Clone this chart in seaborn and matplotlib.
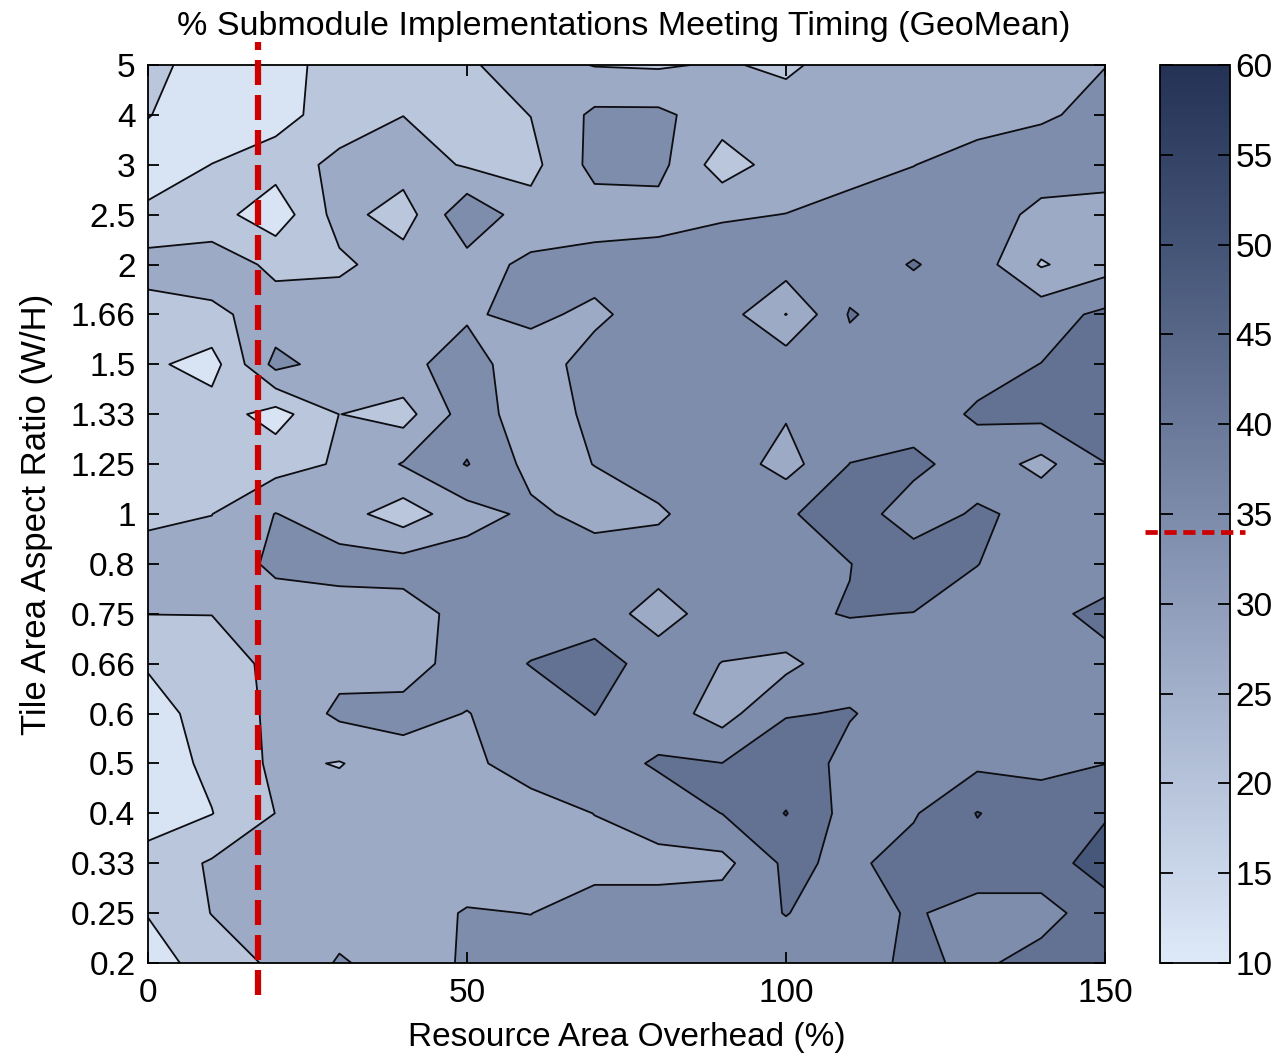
import numpy as np
import matplotlib
matplotlib.use("Agg")
import matplotlib.pyplot as plt
import seaborn as sns
from matplotlib import transforms
from matplotlib.colors import Normalize
from matplotlib.cm import ScalarMappable

# Resource area overhead (%) sampled every 10 %
overhead = [0, 10, 20, 30, 40, 50, 60, 70, 80, 90, 100, 110, 120, 130, 140, 150]

# Tile aspect ratios (W/H), plotted on evenly spaced rows
aspect_labels = ["0.2", "0.25", "0.33", "0.4", "0.5", "0.6", "0.66", "0.75", "0.8",
                 "1", "1.25", "1.33", "1.5", "1.66", "2", "2.5", "3", "4", "5"]

# % of submodule implementations meeting timing (geometric mean), one row per aspect ratio
r_0p2  = [12.5, 18.5, 24.5, 31.2, 27.5, 31.2, 33.5, 35.0, 35.0, 35.0, 35.0, 35.0, 39.5, 36.5, 41.0, 44.0]
r_0p25 = [15.8, 23.2, 26.8, 27.5, 27.5, 31.0, 30.4, 33.5, 33.5, 35.0, 38.2, 35.0, 38.8, 35.0, 35.0, 42.5]
r_0p33 = [18.5, 23.8, 26.0, 26.8, 26.8, 26.8, 27.5, 28.2, 28.2, 28.2, 39.5, 36.5, 41.0, 42.5, 42.5, 48.5]
r_0p4  = [11.8, 15.3, 23.1, 26.8, 26.8, 26.8, 27.5, 30.6, 34.2, 38.1, 45.8, 35.0, 37.3, 45.8, 41.0, 44.8]
r_0p5  = [11.8, 17.0, 24.5, 22.6, 27.5, 29.0, 33.5, 35.0, 38.8, 38.1, 41.0, 36.5, 37.9, 36.5, 36.5, 37.9]
r_0p6  = [12.5, 18.5, 24.5, 32.0, 32.8, 30.3, 33.5, 38.1, 34.2, 27.5, 37.7, 38.3, 35.8, 35.8, 35.8, 35.8]
r_0p66 = [16.2, 20.0, 24.5, 28.2, 27.5, 33.5, 38.3, 41.0, 35.0, 30.3, 28.5, 35.8, 35.8, 35.8, 35.8, 36.5]
r_0p75 = [23.1, 23.1, 26.8, 26.8, 27.5, 32.8, 33.5, 35.0, 26.8, 35.0, 37.3, 38.2, 37.9, 35.8, 36.5, 39.5]
r_0p8  = [26.0, 26.0, 32.0, 33.5, 33.5, 34.2, 33.5, 34.2, 34.2, 35.0, 35.8, 37.9, 41.0, 38.1, 35.0, 35.0]
r_1    = [21.5, 22.9, 30.7, 26.0, 19.2, 27.5, 32.0, 28.2, 29.5, 35.0, 37.3, 41.0, 35.0, 38.8, 36.5, 35.0]
r_1p25 = [20.0, 20.0, 20.0, 23.8, 31.0, 38.4, 28.2, 30.6, 34.2, 35.0, 27.5, 38.1, 39.5, 35.0, 28.2, 37.9]
r_1p33 = [19.2, 19.2, 12.5, 23.1, 20.0, 34.2, 26.8, 32.0, 34.2, 34.2, 31.2, 34.2, 35.0, 38.8, 40.2, 41.0]
r_1p5  = [17.0, 12.5, 32.8, 26.8, 29.0, 33.0, 26.8, 33.5, 34.2, 35.0, 35.0, 35.0, 35.0, 35.8, 38.1, 42.5]
r_1p66 = [20.0, 21.5, 26.0, 27.5, 27.5, 29.8, 32.0, 29.0, 34.2, 34.2, 22.8, 38.6, 34.2, 35.0, 35.0, 39.5]
r_2    = [26.0, 26.8, 21.5, 21.5, 26.8, 27.5, 32.0, 33.5, 34.2, 34.2, 34.2, 34.2, 38.5, 34.2, 22.3, 27.5]
r_2p5  = [17.0, 18.5, 11.0, 26.0, 19.2, 36.5, 26.0, 26.8, 27.5, 29.8, 30.6, 32.8, 33.5, 33.5, 29.0, 27.5]
r_3    = [11.8, 15.6, 18.5, 25.2, 26.8, 22.2, 20.8, 32.8, 32.8, 19.2, 26.8, 28.2, 30.4, 32.8, 33.5, 34.2]
r_4    = [15.8, 11.0, 13.2, 18.5, 22.9, 20.0, 23.1, 32.0, 32.0, 26.8, 26.8, 26.8, 27.5, 28.2, 29.8, 32.0]
r_5    = [18.5, 11.0, 12.5, 18.5, 20.0, 22.2, 26.0, 22.7, 22.2, 23.8, 21.5, 26.8, 27.5, 27.5, 27.5, 30.4]

timing = np.array([r_0p2, r_0p25, r_0p33, r_0p4, r_0p5, r_0p6, r_0p66, r_0p75, r_0p8,
                   r_1, r_1p25, r_1p33, r_1p5, r_1p66, r_2, r_2p5, r_3, r_4, r_5])

contour_levels = [8, 15.5, 23, 30.5, 38, 45.5, 53, 60.5]
colorbar_ticks = [10, 15, 20, 25, 30, 35, 40, 45, 50, 55, 60]
threshold = 34          # marked on the colour bar
overhead_marker = 17.3  # marked across the map

sns.set_style("ticks")
plt.rcParams["font.family"] = ["Liberation Sans", "DejaVu Sans"]
for key in ("text.color", "axes.labelcolor", "xtick.color", "ytick.color", "axes.edgecolor"):
    plt.rcParams[key] = "black"
plt.rcParams["axes.axisbelow"] = False

cmap = sns.blend_palette(["#dee9f8", "#b6c3da", "#8f9dbb", "#6a7999", "#445476", "#233255"],
                         as_cmap=True)
norm = Normalize(vmin=10, vmax=60)

W, H = 1276, 1056
fig = plt.figure(figsize=(W / 100, H / 100), dpi=100)
ax = fig.add_axes([148 / W, 93 / H, 957 / W, 898 / H])
ax.set_axisbelow(False)

rows = np.arange(len(aspect_labels))
ax.contourf(overhead, rows, timing, levels=contour_levels, cmap=cmap, norm=norm, zorder=1)
ax.contour(overhead, rows, timing, levels=contour_levels, colors="#0d0d12",
           linewidths=1.3, zorder=2)

ax.set_xlim(0, 150)
ax.set_ylim(0, len(aspect_labels) - 1)
ax.set_xticks([0, 50, 100, 150])
ax.set_yticks(rows)
ax.set_yticklabels(aspect_labels)
ax.tick_params(direction="in", bottom=True, left=True, top=True, right=True,
               length=8, width=1.3, labelsize=24, colors="black")
ax.tick_params(axis="y", pad=9)
ax.tick_params(axis="x", pad=11)
for s in ax.spines.values():
    s.set_linewidth(1.3)
    s.set_color("black")
    s.set_zorder(5)

ax.set_xlabel("Resource Area Overhead (%)", fontsize=24, labelpad=9)
ax.set_ylabel("Tile Area Aspect Ratio (W/H)", fontsize=25, labelpad=13)
fig.text(624 / W, 1 - 26 / H, "% Submodule Implementations Meeting Timing (GeoMean)",
         ha="center", va="center", fontsize=24.5)

ax.axvline(overhead_marker, ymin=-0.036, ymax=1.026, color="#cc0000", lw=4.5,
           linestyle=(0, (4.0, 1.6)), clip_on=False, zorder=6)

cax = fig.add_axes([1160 / W, 93 / H, 70 / W, 898 / H])
cax.set_axisbelow(False)
sm = ScalarMappable(norm=norm, cmap=cmap)
cb = fig.colorbar(sm, cax=cax, ticks=colorbar_ticks)
cb.outline.set_linewidth(1.3)
cb.outline.set_edgecolor("black")
cax.tick_params(direction="in", left=True, right=True, length=9, width=1.3,
                labelsize=24, pad=4, colors="black")
blend = transforms.blended_transform_factory(cax.transAxes, cax.transData)
cax.plot([-0.22, 1.22], [threshold, threshold], transform=blend, color="#cc0000",
         lw=3.4, linestyle=(0, (2.6, 1.4)), clip_on=False, zorder=6)

fig.savefig("out.png", dpi=100)
